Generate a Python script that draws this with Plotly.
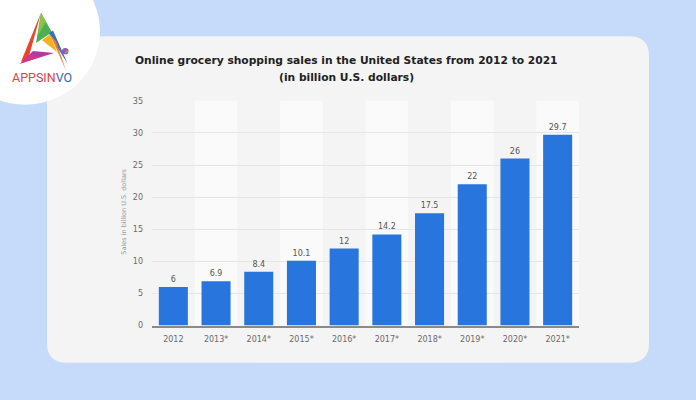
import plotly.graph_objects as go

W, H = 696, 400

years = ["2012", "2013*", "2014*", "2015*", "2016*", "2017*", "2018*", "2019*", "2020*", "2021*"]
sales = [6, 6.9, 8.4, 10.1, 12, 14.2, 17.5, 22, 26, 29.7]
value_labels = ["6", "6.9", "8.4", "10.1", "12", "14.2", "17.5", "22", "26", "29.7"]
y_ticks = [0, 5, 10, 15, 20, 25, 30, 35]

title_line1 = "Online grocery shopping sales in the United States from 2012 to 2021"
title_line2 = "(in billion U.S. dollars)"
y_title = "Sales in billion U.S. dollars"

FONT = "DejaVu Sans"


def px(x):
    return x / W


def py(y):
    return 1 - y / H


def path_px(points_cmds):
    out = []
    for cmd in points_cmds:
        if isinstance(cmd, str):
            out.append(cmd)
        else:
            out.append(f"{px(cmd[0]):.5f},{py(cmd[1]):.5f}")
    return " ".join(out)


# plot-area in pixels
PL, PR, PT, PB = 152, 579, 99, 329

fig = go.Figure()
fig.add_trace(go.Bar(
    x=years, y=sales, text=value_labels, textposition="outside",
    textfont=dict(family=FONT, size=8, color="#555555"),
    marker=dict(color="#2875DE", line=dict(width=0)),
    cliponaxis=False, hoverinfo="skip",
))

shapes = []
# card with rounded corners
cx0, cy0, cx1, cy1, r = 47, 33, 649, 367, 20
card = path_px([
    "M", (cx0 + r, cy0), "L", (cx1 - r, cy0), "Q", (cx1, cy0), (cx1, cy0 + r),
    "L", (cx1, cy1 - r), "Q", (cx1, cy1), (cx1 - r, cy1),
    "L", (cx0 + r, cy1), "Q", (cx0, cy1), (cx0, cy1 - r),
    "L", (cx0, cy0 + r), "Q", (cx0, cy0), (cx0 + r, cy0), "Z"])
shapes.append(dict(type="path", xref="paper", yref="paper", path=card,
                   fillcolor="#F4F4F4", line=dict(width=0), layer="below"))
# logo circle
shapes.append(dict(type="circle", xref="paper", yref="paper",
                   x0=px(25 - 75), x1=px(25 + 75), y0=py(28 + 75), y1=py(28 - 75),
                   fillcolor="#FFFFFF", line=dict(width=0), layer="below"))

# logo pieces (decorative)
logo = [
    ("#E8452C", [(41, 9), (21, 59), (28, 57)]),
    ("#4CAF50", [(41, 9), (52, 29), (36, 40)]),
    ("#8BC34A", [(41, 9), (46, 18), (38, 32)]),
    ("#B23AA0", [(20, 61), (54, 50), (33, 48)]),
    ("#D6338E", [(20, 61), (40, 54), (30, 52)]),
    ("#2F6FC9", [(49, 30), (53, 27), (68, 62)]),
    ("#F4B223", [(42, 37), (50, 31), (57, 49)]),
    ("#F07C22", [(50, 31), (56, 38), (66, 68)]),
]
for col, pts in logo:
    cmds = ["M", pts[0]]
    for p in pts[1:]:
        cmds += ["L", p]
    cmds.append("Z")
    shapes.append(dict(type="path", xref="paper", yref="paper", path=path_px(cmds),
                       fillcolor=col, line=dict(width=0)))
shapes.append(dict(type="circle", xref="paper", yref="paper",
                   x0=px(62), x1=px(68.5), y0=py(51.5), y1=py(45),
                   fillcolor="#8E5BC4", line=dict(width=0)))
shapes.append(dict(type="path", xref="paper", yref="paper",
                   path=path_px(["M", (65.2, 45), "L", (68.5, 48.2), "L", (65.2, 48.2), "Z"]),
                   fillcolor="#E84B3A", line=dict(width=0)))
shapes.append(dict(type="path", xref="paper", yref="paper",
                   path=path_px(["M", (65.2, 48.2), "L", (68.5, 48.2), "L", (65.2, 51.5), "Z"]),
                   fillcolor="#5CBF5A", line=dict(width=0)))

# alternating column stripes
for i in range(len(years)):
    if i % 2 == 1:
        shapes.append(dict(type="rect", xref="x", yref="paper",
                           x0=i - 0.5, x1=i + 0.5, y0=py(PB), y1=py(PT),
                           fillcolor="#FAFAFA", line=dict(width=0), layer="below"))

annotations = [
    dict(xref="paper", yref="paper", x=px(346.5), y=py(58), text=f"<b>{title_line1}</b>",
         showarrow=False, font=dict(family=FONT, size=10.7, color="#222222"),
         xanchor="center", yanchor="middle"),
    dict(xref="paper", yref="paper", x=px(346.5), y=py(75), text=f"<b>{title_line2}</b>",
         showarrow=False, font=dict(family=FONT, size=10.7, color="#222222"),
         xanchor="center", yanchor="middle"),
    dict(xref="paper", yref="paper", x=px(124.5), y=py(213), text=y_title, textangle=-90,
         showarrow=False, font=dict(family=FONT, size=6.5, color="#9A9A9A"),
         xanchor="center", yanchor="middle"),
    dict(xref="paper", yref="paper", x=px(42), y=py(75),
         text=('<span style="color:#E8413C">APP</span><span style="color:#D2306F">S</span>'
               '<span style="color:#E8413C">IN</span><span style="color:#3766B8">VO</span>'),
         showarrow=False, font=dict(family="Roboto", size=12.5),
         xanchor="center", yanchor="middle"),
]

fig.update_layout(
    width=W, height=H, margin=dict(l=0, r=0, t=0, b=0),
    paper_bgcolor="#C6DBF9", plot_bgcolor="rgba(0,0,0,0)",
    showlegend=False, bargap=0.32,
    shapes=shapes, annotations=annotations,
    xaxis=dict(domain=[px(PL), px(PR)], type="category", showgrid=False,
               showline=True, linecolor="#8A8A8A", linewidth=1.5,
               ticks="", ticklabelstandoff=5,
               tickfont=dict(family=FONT, size=8, color="#6A6A6A"), fixedrange=True),
    yaxis=dict(domain=[py(PB), py(PT)], range=[0, 35], tickvals=y_ticks,
               showgrid=True, gridcolor="#E6E6E6", gridwidth=1, zeroline=False,
               showline=False, ticks="", ticklabelstandoff=8,
               tickfont=dict(family=FONT, size=8, color="#6A6A6A"), fixedrange=True),
)

fig.write_html("out.html", config={"displayModeBar": False},
               post_script="document.body.style.margin='0px';document.body.style.background='#C6DBF9';")
